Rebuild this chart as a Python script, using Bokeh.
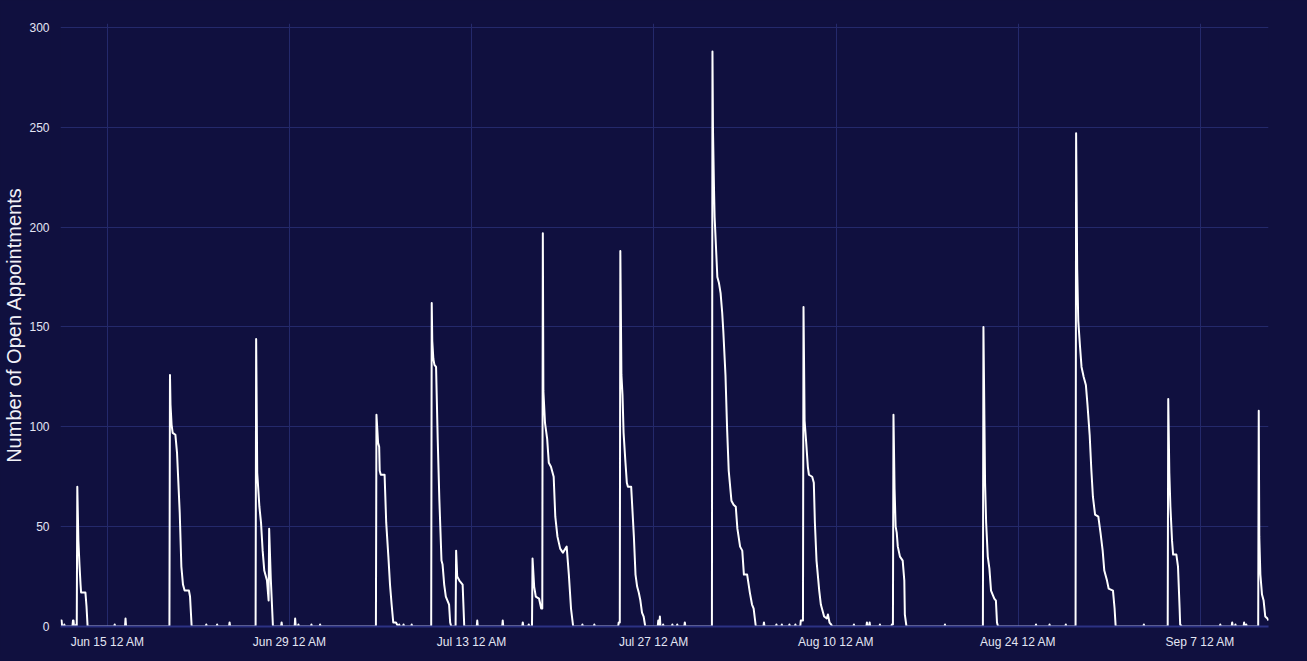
import pandas as pd
from bokeh.plotting import figure
from bokeh.models import ColumnDataSource, FixedTicker, DatetimeTickFormatter, Range1d
from bokeh.embed import file_html
from bokeh.resources import INLINE

YEAR = "2020"

# Timestamps (MM-DD HH:MM) and number of open appointments
timestamps = [
    "06-11 09:00", "06-11 11:00", "06-11 12:00", "06-11 15:00", "06-11 16:00", "06-11 17:00",
    "06-12 07:00", "06-12 08:00", "06-12 09:00", "06-12 10:00", "06-12 13:00", "06-12 14:00",
    "06-12 15:00", "06-12 16:00", "06-12 18:00", "06-12 20:00", "06-12 22:00", "06-12 23:00",
    "06-13 07:00", "06-13 09:00", "06-13 11:00", "06-15 12:00", "06-15 13:00", "06-15 14:00",
    "06-16 08:00", "06-16 09:00", "06-16 10:00",
    "06-19 18:00", "06-19 19:00", "06-19 20:00", "06-19 22:00", "06-20 00:00", "06-20 05:00",
    "06-20 08:00", "06-20 13:00", "06-20 16:00", "06-20 19:00", "06-20 22:00", "06-21 06:00",
    "06-21 08:00", "06-21 11:00",
    "06-22 13:00", "06-22 14:00", "06-22 15:00", "06-23 09:00", "06-23 10:00", "06-23 11:00",
    "06-24 08:00", "06-24 09:00", "06-24 10:00",
    "06-26 09:00", "06-26 10:00", "06-26 12:00", "06-26 16:00", "06-26 19:00", "06-26 22:00",
    "06-27 01:00", "06-27 04:00", "06-27 06:00", "06-27 09:00", "06-27 10:00", "06-27 13:00",
    "06-27 15:00", "06-27 17:00",
    "06-28 08:00", "06-28 09:00", "06-28 10:00", "06-29 09:00", "06-29 10:00", "06-29 11:00",
    "06-29 15:00", "06-29 16:00", "06-29 17:00", "06-30 15:00", "06-30 16:00", "06-30 17:00",
    "07-01 07:00", "07-01 08:00", "07-01 09:00",
    "07-05 15:00", "07-05 16:00", "07-05 19:00", "07-05 21:00", "07-05 22:00", "07-06 00:00",
    "07-06 07:00", "07-06 10:00", "07-06 14:00", "07-06 17:00", "07-06 20:00", "07-06 23:00",
    "07-07 04:00", "07-07 06:00", "07-07 08:00", "07-07 09:00", "07-07 10:00", "07-07 11:00",
    "07-07 17:00", "07-07 18:00", "07-07 19:00", "07-08 08:00", "07-08 09:00", "07-08 10:00",
    "07-09 21:00", "07-09 22:00", "07-09 23:00", "07-10 01:00", "07-10 03:00", "07-10 06:00",
    "07-10 09:00", "07-10 12:00", "07-10 16:00", "07-10 18:00", "07-10 21:00", "07-11 00:00",
    "07-11 03:00", "07-11 06:00", "07-11 08:00", "07-11 10:00", "07-11 18:00", "07-11 19:00",
    "07-11 21:00", "07-12 01:00", "07-12 07:00", "07-12 10:00",
    "07-13 09:00", "07-13 10:00", "07-13 11:00", "07-15 08:00", "07-15 09:00", "07-15 10:00",
    "07-16 21:00", "07-16 22:00", "07-16 23:00", "07-17 08:00", "07-17 09:00", "07-17 10:00",
    "07-17 15:00", "07-17 16:00", "07-17 19:00", "07-17 22:00", "07-18 04:00", "07-18 08:00",
    "07-18 10:00", "07-18 11:00", "07-18 12:00", "07-18 15:00", "07-18 19:00", "07-18 22:00",
    "07-19 02:00", "07-19 07:00", "07-19 10:00", "07-19 14:00", "07-19 19:00", "07-20 00:00",
    "07-20 07:00", "07-20 11:00", "07-20 15:00", "07-20 19:00",
    "07-21 11:00", "07-21 12:00", "07-21 13:00", "07-22 09:00", "07-22 10:00", "07-22 11:00",
    "07-24 06:00", "07-24 07:00", "07-24 09:00", "07-24 10:00", "07-24 12:00", "07-24 14:00",
    "07-24 16:00", "07-24 19:00", "07-24 22:00", "07-25 00:00", "07-25 06:00", "07-25 11:00",
    "07-25 14:00", "07-25 17:00", "07-25 20:00", "07-25 23:00", "07-26 02:00", "07-26 05:00",
    "07-26 08:00",
    "07-27 07:00", "07-27 08:00", "07-27 09:00", "07-27 10:00", "07-27 11:00", "07-27 12:00",
    "07-27 16:00", "07-27 17:00", "07-27 18:00", "07-28 09:00", "07-28 10:00", "07-28 11:00",
    "07-28 18:00", "07-28 19:00", "07-28 20:00", "07-29 08:00", "07-29 09:00", "07-29 10:00",
    "07-31 11:00", "07-31 12:00", "07-31 13:00", "07-31 15:00", "07-31 16:00", "07-31 18:00",
    "07-31 21:00", "08-01 00:00", "08-01 03:00", "08-01 06:00", "08-01 08:00", "08-01 12:00",
    "08-01 15:00", "08-01 18:00", "08-01 23:00", "08-02 03:00", "08-02 07:00", "08-02 10:00",
    "08-02 15:00", "08-02 19:00", "08-02 22:00", "08-03 04:00", "08-03 09:00", "08-03 13:00",
    "08-03 16:00", "08-03 20:00",
    "08-04 10:00", "08-04 11:00", "08-04 12:00", "08-05 09:00", "08-05 10:00", "08-05 11:00",
    "08-05 19:00", "08-05 20:00", "08-05 21:00", "08-06 09:00", "08-06 10:00", "08-06 11:00",
    "08-06 20:00", "08-06 21:00", "08-06 22:00",
    "08-07 06:00", "08-07 07:00", "08-07 11:00", "08-07 12:00", "08-07 14:00", "08-07 17:00",
    "08-07 20:00", "08-07 22:00", "08-08 04:00", "08-08 07:00", "08-08 09:00", "08-08 12:00",
    "08-08 17:00", "08-08 20:00", "08-08 23:00", "08-09 02:00", "08-09 07:00", "08-09 09:00",
    "08-09 12:00", "08-09 15:00", "08-09 17:00",
    "08-11 08:00", "08-11 09:00", "08-11 10:00", "08-12 08:00", "08-12 09:00", "08-12 10:00",
    "08-12 13:00", "08-12 14:00", "08-12 15:00", "08-13 08:00", "08-13 09:00", "08-13 10:00",
    "08-14 06:00", "08-14 07:00", "08-14 09:00", "08-14 10:00", "08-14 12:00", "08-14 14:00",
    "08-14 16:00", "08-14 18:00", "08-14 22:00", "08-15 03:00", "08-15 06:00", "08-15 07:00",
    "08-15 10:00",
    "08-18 08:00", "08-18 09:00", "08-18 10:00",
    "08-21 07:00", "08-21 08:00", "08-21 11:00", "08-21 13:00", "08-21 16:00", "08-21 19:00",
    "08-21 22:00", "08-22 01:00", "08-22 04:00", "08-22 07:00", "08-22 09:00", "08-22 11:00",
    "08-25 08:00", "08-25 09:00", "08-25 10:00", "08-26 09:00", "08-26 10:00", "08-26 11:00",
    "08-27 15:00", "08-27 16:00", "08-27 17:00",
    "08-28 10:00", "08-28 11:00", "08-28 13:00", "08-28 15:00", "08-28 18:00", "08-28 21:00",
    "08-29 01:00", "08-29 05:00", "08-29 08:00", "08-29 12:00", "08-29 15:00", "08-29 18:00",
    "08-29 22:00", "08-30 04:00", "08-30 08:00", "08-30 12:00", "08-30 15:00", "08-30 20:00",
    "08-30 23:00", "08-31 07:00", "08-31 10:00", "08-31 12:00",
    "09-02 15:00", "09-02 16:00", "09-02 17:00",
    "09-04 12:00", "09-04 13:00", "09-04 15:00", "09-04 17:00", "09-04 20:00", "09-04 22:00",
    "09-05 04:00", "09-05 07:00", "09-05 10:00", "09-05 11:00", "09-05 14:00",
    "09-08 12:00", "09-08 13:00", "09-08 14:00", "09-09 10:00", "09-09 11:00", "09-09 12:00",
    "09-09 16:00", "09-09 17:00", "09-09 18:00", "09-10 08:00", "09-10 09:00", "09-10 10:00",
    "09-10 12:00", "09-10 13:00", "09-10 14:00",
    "09-11 11:00", "09-11 12:00", "09-11 13:00", "09-11 15:00", "09-11 18:00", "09-11 21:00",
    "09-12 00:00", "09-12 04:00", "09-12 06:00",
]

open_appointments = [
    3, 3, 0, 0, 1, 0,
    0, 3, 3, 0, 0, 1,
    0, 70, 43, 31, 21, 17,
    17, 10, 0, 0, 1, 0,
    0, 4, 0,
    0, 126, 111, 101, 97, 96,
    87, 57, 30, 21, 18, 18,
    15, 0,
    0, 1, 0, 0, 1, 0,
    0, 2, 0,
    0, 144, 77, 60, 52, 38,
    28, 25, 23, 13, 49, 24,
    12, 0,
    0, 2, 0, 0, 4, 0,
    0, 1, 0, 0, 1, 0,
    0, 1, 0,
    0, 106, 92, 90, 78, 76,
    76, 52, 35, 21, 11, 2,
    2, 1, 0, 0, 1, 0,
    0, 1, 0, 0, 1, 0,
    0, 162, 143, 134, 131, 130,
    94, 64, 33, 31, 21, 15,
    13, 11, 2, 0, 0, 38,
    25, 23, 21, 0,
    0, 3, 0, 0, 3, 0,
    0, 2, 0, 0, 1, 0,
    0, 34, 20, 15, 14, 9,
    9, 197, 118, 102, 94, 82,
    80, 75, 55, 45, 39, 37,
    40, 26, 9, 0,
    0, 1, 0, 0, 1, 0,
    0, 2, 2, 188, 126, 116,
    97, 84, 72, 70, 70, 45,
    26, 20, 17, 13, 7, 5,
    0,
    0, 3, 0, 0, 5, 0,
    0, 1, 0, 0, 1, 0,
    0, 1, 0, 0, 2, 0,
    0, 288, 248, 217, 205, 193,
    175, 172, 167, 157, 148, 126,
    99, 78, 63, 61, 60, 49,
    40, 38, 26, 26, 17, 11,
    9, 0,
    0, 2, 0, 0, 1, 0,
    0, 1, 0, 0, 1, 0,
    0, 1, 0,
    0, 3, 3, 160, 103, 92,
    80, 76, 75, 72, 52, 33,
    18, 11, 8, 5, 4, 6,
    2, 1, 0,
    0, 1, 0, 0, 2, 0,
    0, 2, 0, 0, 1, 0,
    0, 1, 1, 106, 69, 50,
    47, 40, 35, 33, 23, 6,
    0,
    0, 1, 0,
    0, 150, 72, 52, 35, 29,
    18, 16, 14, 13, 2, 0,
    0, 1, 0, 0, 1, 0,
    0, 1, 0,
    0, 247, 179, 153, 141, 130,
    125, 121, 111, 96, 79, 65,
    56, 55, 47, 38, 28, 23,
    19, 18, 9, 0,
    0, 1, 0,
    0, 114, 77, 60, 43, 36,
    36, 30, 9, 1, 0,
    0, 1, 0, 0, 2, 0,
    0, 1, 0, 0, 2, 0,
    0, 1, 0,
    0, 108, 45, 26, 16, 13,
    5, 4, 3,
]

x_tick_dates = ["06-15", "06-29", "07-13", "07-27", "08-10", "08-24", "09-07"]
y_ticks = [0, 50, 100, 150, 200, 250, 300]

BG = "#10103f"
GRID = "#24296b"
TICK_TEXT = "#e4e6f4"

t = pd.to_datetime([f"{YEAR}-{s}" for s in timestamps], format="%Y-%m-%d %H:%M")
src = ColumnDataSource(dict(t=t, n=open_appointments))

p = figure(
    width=1300, height=655,
    x_axis_type="datetime",
    output_backend="svg", toolbar_location=None,
    x_range=Range1d(t.min().to_pydatetime(), t.max().to_pydatetime()),
    y_range=Range1d(0, 302),
    min_border_left=60, min_border_right=32, min_border_top=23, min_border_bottom=29,
)
p.background_fill_color = BG
p.border_fill_color = BG
p.outline_line_color = None

p.line("t", "n", source=src, line_color="white", line_width=2, line_join="round")

tick_ms = [pd.Timestamp(f"{YEAR}-{d}").value / 1e6 for d in x_tick_dates]
p.xaxis.ticker = FixedTicker(ticks=tick_ms)
fmt = "%b %-d %-I %p"
p.xaxis.formatter = DatetimeTickFormatter(
    microseconds=fmt, milliseconds=fmt, seconds=fmt, minsec=fmt, minutes=fmt,
    hourmin=fmt, hours=fmt, days=fmt, months=fmt, years=fmt,
)
p.yaxis.ticker = FixedTicker(ticks=y_ticks)

for ax in (p.xaxis, p.yaxis):
    ax.major_tick_line_color = None
    ax.minor_tick_line_color = None
    ax.major_label_text_color = TICK_TEXT
    ax.major_label_text_font = "Liberation Sans"
    ax.major_label_text_font_size = "12px"

p.xaxis.axis_line_color = "#2b3183"
p.xaxis.axis_line_width = 2
p.xaxis.major_label_standoff = 2
p.yaxis.axis_line_color = None
p.yaxis.major_label_standoff = 5

p.yaxis.axis_label = "Number of Open Appointments"
p.yaxis.axis_label_text_font = "Liberation Sans"
p.yaxis.axis_label_text_font_size = "20px"
p.yaxis.axis_label_text_font_style = "normal"
p.yaxis.axis_label_text_color = "#f2f2f7"
p.yaxis.axis_label_standoff = 1

p.xgrid.grid_line_color = GRID
p.ygrid.grid_line_color = GRID
p.xgrid.grid_line_width = 1
p.ygrid.grid_line_width = 1

html = file_html(p, INLINE, title="Open Appointments")
html = html.replace("</head>", "<style>html, body { background: #10103f; }</style></head>", 1)
open("out.html", "w").write(html)
